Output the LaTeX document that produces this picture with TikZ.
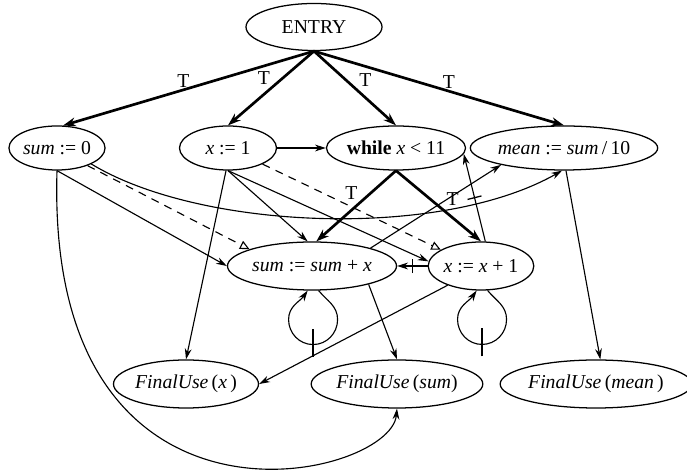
\documentclass[tikz,border=0pt]{standalone}
\usepackage{fontspec}
\setmainfont{Liberation Serif}
\usetikzlibrary{shapes.geometric,arrows.meta}
\newcommand{\cutmark}{\rule[-1.8mm]{0.9pt}{3.6mm}}
\newcommand{\loopmark}{\rule[-3mm]{0.9pt}{7mm}}

\begin{document}
\begin{tikzpicture}[x=0.25mm,y=0.25mm,
  stmt/.style={draw, ellipse, line width=0.9pt, inner sep=0pt, minimum height=11mm, font=\fontsize{14}{16}\selectfont},
  dep/.style={line width=0.8pt, -{Stealth[length=2.7mm,width=1.7mm]}},
  ctrl/.style={line width=1.9pt, -{Stealth[length=3.2mm,width=2.2mm]}},
  carry/.style={line width=0.8pt, dash pattern=on 2mm off 1.6mm, -{Triangle[open,length=2.4mm,width=2.2mm]}},
  cond/.style={font=\fontsize{14}{16}\selectfont, inner sep=1pt},
  cut/.style={sloped, inner sep=0pt, pos=.5},
  loopcut/.style={inner sep=0pt, anchor=base, pos=1}]
\useasboundingbox (0,0) rectangle (687,471);

\node[stmt, minimum width=34mm, minimum height=11.75mm] (entry) at (314,444) {ENTRY};
\node[stmt, minimum width=24mm] (s0) at (57,323) {\textit{sum} := 0};
\node[stmt, minimum width=24.25mm] (x1) at (228,323) {\textit{x} := 1};
\node[stmt, minimum width=33mm] (w) at (396,323) {\textbf{while} \textit{x} < 11};
\node[stmt, minimum width=42mm] (m) at (564,323) {\textit{mean} := \textit{sum}\,/\,10};
\node[stmt, minimum width=40.25mm, minimum height=12mm] (s1) at (312,205) {\textit{sum} := \textit{sum} + \textit{x}};
\node[stmt, minimum width=25.75mm, minimum height=12mm] (xinc) at (481,205) {\textit{x} := \textit{x} + 1};
\node[stmt, minimum width=36.25mm, minimum height=12mm] (fx) at (186,87) {\textit{FinalUse}\,(\textit{x}\,)};
\node[stmt, minimum width=40.5mm, minimum height=12mm] (fs) at (397,87) {\textit{FinalUse}\,(\textit{sum})};
\node[stmt, minimum width=41.5mm, minimum height=12mm] (fm) at (596,87) {\textit{FinalUse}\,(\textit{mean}\,)};

\path[draw,ctrl] (entry.south) -- node[cond,pos=.52,above] (t1) {T} (s0.75);
\path[draw,ctrl] (entry.south) -- node[cond,pos=.48,above left] (t2) {T} (x1.north);
\path[draw,ctrl] (entry.south) -- node[cond,pos=.52,above right] (t3) {T} (w.north);
\path[draw,ctrl] (entry.south) -- node[cond,pos=.54,above] (t4) {T} (m.north);

\path[draw,dep] (x1.east) -- (w.west);
\path[draw,ctrl] (w.south) -- node[cond,pos=.45,above left] (t5) {T} (s1.80);
\path[draw,ctrl] (w.south) -- node[cond,pos=.4,right=3.5mm] (t6) {T} (xinc.north);

\path[draw,dep] (s0.south) -- (s1.west);
\path[draw,carry] (s0.-30) -- (s1.165);
\path[draw,dep] (s0.-25) .. controls (200,241) and (440,231) .. (m.-95);
\path[draw,dep] (s0.south) .. controls (45,-89) and (390,-9) .. (fs.south);

\path[draw,dep] (x1.-95) -- (fx.north);
\path[draw,dep] (x1.south) -- (s1.100);
\path[draw,dep] (x1.south) -- (xinc.175);
\path[draw,carry] (x1.-25) -- (xinc.158);

\path[draw,dep] (xinc.west) -- node[cut] (c1) {\cutmark} (s1.east);
\path[draw,dep] (xinc.80) -- node[cut] (c2) {\cutmark} (w.-5);
\path[draw,dep] (s1.17) -- (m.195);
\path[draw,dep] (s1.-18) -- (fs.north);
\path[draw,dep] (xinc.210) -- (fx.east);
\path[draw,dep] (m.-85) -- (fm.80);

\path[draw,dep] (s1.-75) to[out=-50,in=90] ++(19,-29)
  to[out=-90,in=0] node[loopcut] (c3) {\loopmark} ++(-24.5,-25)
  to[out=180,in=-90] ++(-24.5,25) to[out=90,in=-125] (s1.-100);
\path[draw,dep] (xinc.-75) to[out=-50,in=90] ++(19,-29)
  to[out=-90,in=0] node[loopcut] (c4) {\loopmark} ++(-24.5,-25)
  to[out=180,in=-90] ++(-24.5,25) to[out=90,in=-125] (xinc.-100);
\end{tikzpicture}
\end{document}
